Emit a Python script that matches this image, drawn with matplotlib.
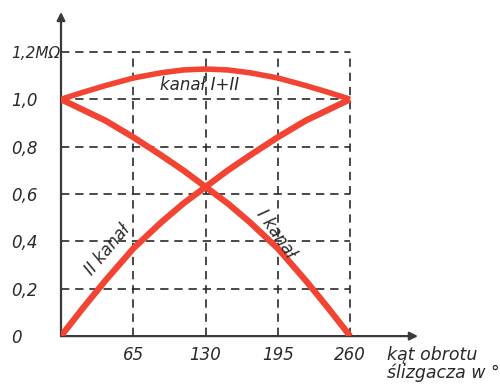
import matplotlib
matplotlib.use("Agg")
import matplotlib.pyplot as plt

# Data
x_ch2 = [0, 20, 40, 65, 90, 110, 130, 150, 172, 195, 220, 240, 260]
y_ch2 = [0.0, 0.12, 0.235, 0.37, 0.48, 0.56, 0.63, 0.70, 0.77, 0.84, 0.91, 0.955, 1.0]
x_ch1 = [0, 20, 40, 65, 88, 110, 130, 150, 170, 195, 220, 240, 260]
y_ch1 = [1.0, 0.955, 0.91, 0.84, 0.77, 0.70, 0.63, 0.56, 0.48, 0.37, 0.235, 0.12, 0.0]
x_sum = [0, 20, 40, 65, 90, 110, 130, 150, 170, 195, 220, 240, 260]
y_sum = [1.0, 1.03, 1.058, 1.09, 1.112, 1.124, 1.128, 1.124, 1.112, 1.09, 1.058, 1.03, 1.0]

x_ticks = [65, 130, 195, 260]
x_tick_labels = ["65", "130", "195", "260"]
y_ticks = [0, 0.2, 0.4, 0.6, 0.8, 1.0, 1.2]
y_tick_labels = ["0", "0,2", "0,4", "0,6", "0,8", "1,0", "1,2MΩ"]

RED = "#f24333"
INK = "#2a2a2a"
H = 385

fig = plt.figure(figsize=(5.0, 3.85), dpi=100)
ax = fig.add_axes([0.122, 0.127, 0.714, 0.842])
ax.set_xlim(0, 321)
ax.set_ylim(0, 1.369)
for s in ax.spines.values():
    s.set_visible(False)

# dashed grid (box up to 260 / 1.2)
for xv in x_ticks:
    ax.plot([xv, xv], [0, 1.2], ls=(0, (5, 3.5)), color=INK, lw=1.2, zorder=1)
for yv in y_ticks[1:]:
    ax.plot([0, 260], [yv, yv], ls=(0, (5, 3.5)), color=INK, lw=1.2, zorder=1)

# axes with arrows
arrow = dict(arrowstyle="-|>", color="#3a3a3a", lw=1.6,
             mutation_scale=12, shrinkA=0, shrinkB=0)
ax.annotate("", xy=(321, 0), xytext=(0, 0), arrowprops=arrow, annotation_clip=False)
ax.annotate("", xy=(0, 1.369), xytext=(0, 0), arrowprops=arrow, annotation_clip=False)

# curves
kw = dict(color=RED, solid_capstyle="butt", solid_joinstyle="round", zorder=3)
ax.plot(x_ch2, y_ch2, lw=4.5, **kw)
ax.plot(x_ch1, y_ch1, lw=4.5, **kw)
ax.plot(x_sum, y_sum, lw=4.0, **kw)

fs = 12
ax.set_xticks(x_ticks)
ax.set_xticklabels(x_tick_labels)
ax.set_yticks(y_ticks)
ax.set_yticklabels(y_tick_labels)
ax.tick_params(length=0, labelsize=fs, colors=INK)
ax.tick_params(axis="x", pad=7)
ax.tick_params(axis="y", pad=36)
for lab in ax.get_xticklabels() + ax.get_yticklabels():
    lab.set_fontstyle("italic")
for lab in ax.get_yticklabels():
    lab.set_horizontalalignment("left")
ax.get_yticklabels()[-1].set_fontsize(11)

ax.text(200, H - 85, "kanał I+II", fontsize=fs, style="italic", color=INK,
        ha="center", va="center", transform=None)
ax.text(108, H - 250, "II kanał", fontsize=fs, style="italic", color=INK,
        ha="center", va="center", rotation=50, transform=None)
ax.text(276, H - 234, "I kanał", fontsize=fs, style="italic", color=INK,
        ha="center", va="center", rotation=-55, transform=None)
ax.text(387, H - 364, "kąt obrotu\nślizgacza w °", fontsize=12.5, style="italic",
        color=INK, ha="left", va="center", transform=None, linespacing=1.0)

fig.savefig("out.png", dpi=100)
